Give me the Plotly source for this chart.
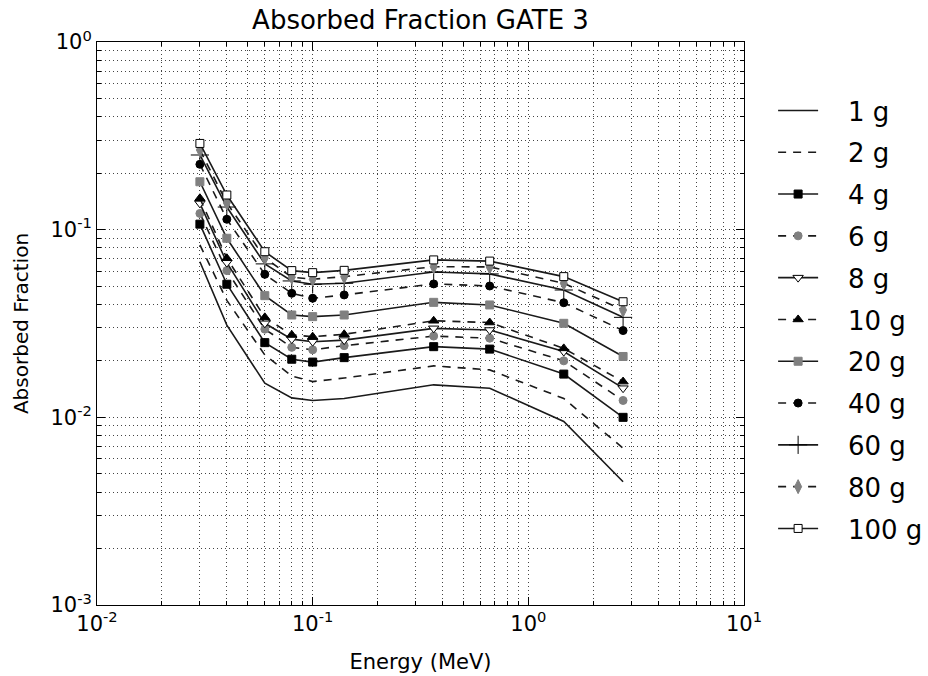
import plotly.graph_objects as go

energy = [0.03, 0.04, 0.06, 0.08, 0.1, 0.14, 0.364, 0.662, 1.46, 2.75]

af_1g = [0.0675, 0.031, 0.0152, 0.0127, 0.0123, 0.0126, 0.0149, 0.0143, 0.0095, 0.00454]
af_2g = [0.0829, 0.042, 0.0215, 0.0166, 0.0155, 0.0162, 0.0188, 0.0179, 0.0126, 0.00685]
af_4g = [0.107, 0.0512, 0.0250, 0.0204, 0.0197, 0.0208, 0.0238, 0.0231, 0.0170, 0.0100]
af_6g = [0.122, 0.0605, 0.0295, 0.0236, 0.0229, 0.0241, 0.0271, 0.0264, 0.0200, 0.0123]
af_8g = [0.138, 0.0667, 0.0317, 0.0261, 0.0253, 0.0258, 0.0298, 0.0292, 0.0224, 0.0143]
af_10g = [0.147, 0.0704, 0.0341, 0.0275, 0.0269, 0.0277, 0.0327, 0.0320, 0.0233, 0.0155]
af_20g = [0.180, 0.090, 0.0445, 0.0351, 0.0344, 0.0351, 0.0410, 0.0397, 0.0317, 0.0211]
af_40g = [0.223, 0.1136, 0.0578, 0.0458, 0.0431, 0.0449, 0.0514, 0.0501, 0.0408, 0.0290]
af_60g = [0.250, 0.132, 0.0657, 0.0533, 0.0512, 0.0518, 0.0595, 0.0581, 0.0477, 0.0341]
af_80g = [0.266, 0.139, 0.0707, 0.0558, 0.0544, 0.0562, 0.0635, 0.0633, 0.0518, 0.0373]
af_100g = [0.288, 0.153, 0.0763, 0.0605, 0.0590, 0.0607, 0.0690, 0.0680, 0.0562, 0.0413]

series_names = ["1 g", "2 g", "4 g", "6 g", "8 g", "10 g", "20 g", "40 g", "60 g", "80 g", "100 g"]
series_values = [af_1g, af_2g, af_4g, af_6g, af_8g, af_10g, af_20g, af_40g, af_60g, af_80g, af_100g]

x_tickvals = [0.01, 0.1, 1, 10]
x_ticktext = ["10<sup>-2</sup>", "10<sup>-1</sup>", "10<sup>0</sup>", "10<sup>1</sup>"]
y_tickvals = [0.001, 0.01, 0.1, 1]
y_ticktext = ["10<sup>-3</sup>", "10<sup>-2</sup>", "10<sup>-1</sup>", "10<sup>0</sup>"]

GRAY = "#808080"
styles = [
    dict(dash="solid", marker=None),
    dict(dash="8px,7px", marker=None),
    dict(dash="solid", marker=dict(symbol="square", size=8, color="black", line=dict(color="black", width=1))),
    dict(dash="8px,7px", marker=dict(symbol="circle", size=8, color=GRAY, line=dict(color=GRAY, width=1))),
    dict(dash="solid", marker=dict(symbol="triangle-down", size=9, color="white", line=dict(color="black", width=1))),
    dict(dash="8px,7px", marker=dict(symbol="triangle-up", size=9, color="black", line=dict(color="black", width=1))),
    dict(dash="solid", marker=dict(symbol="square", size=8, color=GRAY, line=dict(color=GRAY, width=1))),
    dict(dash="8px,7px", marker=dict(symbol="circle", size=8, color="black", line=dict(color="black", width=1))),
    dict(dash="solid", marker=dict(symbol="cross-thin", size=13, color="black", line=dict(color="black", width=1))),
    dict(dash="8px,7px", marker=dict(symbol="diamond-tall", size=10, color=GRAY, line=dict(color=GRAY, width=1))),
    dict(dash="solid", marker=dict(symbol="square", size=8, color="white", line=dict(color="black", width=1))),
]

NBSP = "\u00a0"
fig = go.Figure()
for i, (name, vals, st) in enumerate(zip(series_names, series_values, styles)):
    kw = {}
    if st["marker"] is not None:
        kw["marker"] = st["marker"]
        mode = "lines+markers"
    else:
        mode = "lines"
    fig.add_trace(go.Scatter(
        x=energy, y=vals, name=NBSP * 3 + name, mode=mode,
        line=dict(color="#1a1a1a", width=1.6, dash=st["dash"]),
        legendgroup="g%d" % i,
        **kw
    ))

grid = dict(showgrid=True, gridcolor="#444444", gridwidth=1, griddash="1px,3px")
minor_vals_x = [m * 10.0 ** e for e in range(-2, 1) for m in range(2, 10)]
minor_vals_y = [m * 10.0 ** e for e in range(-3, 0) for m in range(2, 10)]

fig.update_xaxes(
    type="log", range=[-2, 1],
    tickvals=x_tickvals, ticktext=x_ticktext,
    ticks="inside", ticklen=8, tickcolor="black",
    showline=True, linecolor="black", linewidth=1, mirror="ticks",
    tickfont=dict(size=21, color="black"),
    title=dict(text="Energy (MeV)", font=dict(size=21, color="black"), standoff=19),
    minor=dict(tickvals=minor_vals_x, ticks="inside", ticklen=4, tickcolor="black",
               showgrid=True, gridcolor="#444444", gridwidth=1, griddash="1px,3px"),
    zeroline=False,
    **grid,
)
fig.update_yaxes(
    type="log", range=[-3, 0],
    tickvals=y_tickvals, ticktext=y_ticktext,
    ticks="inside", ticklen=8, tickcolor="black",
    showline=True, linecolor="black", linewidth=1, mirror="ticks",
    tickfont=dict(size=21, color="black"),
    title=dict(text="Absorbed Fraction", font=dict(size=20, color="black"), standoff=16),
    minor=dict(tickvals=minor_vals_y, ticks="inside", ticklen=4, tickcolor="black",
               showgrid=True, gridcolor="#444444", gridwidth=1, griddash="1px,3px"),
    zeroline=False,
    **grid,
)

fig.update_layout(
    width=928, height=676,
    margin=dict(l=97, r=184, t=42, b=71, autoexpand=False),
    paper_bgcolor="white", plot_bgcolor="white",
    font=dict(family="DejaVu Sans", color="black"),
    title=dict(text="Absorbed Fraction GATE 3", font=dict(size=26, color="black"),
               x=0.5, xref="paper", xanchor="center",
               y=1 - 20 / 676, yref="container", yanchor="middle"),
    legend=dict(x=1.045, xanchor="left", y=0.92, yanchor="top",
                font=dict(size=26, color="black"), tracegroupgap=5,
                itemwidth=40, bgcolor="rgba(0,0,0,0)"),
    showlegend=True,
)

fig.write_html("out.html")
